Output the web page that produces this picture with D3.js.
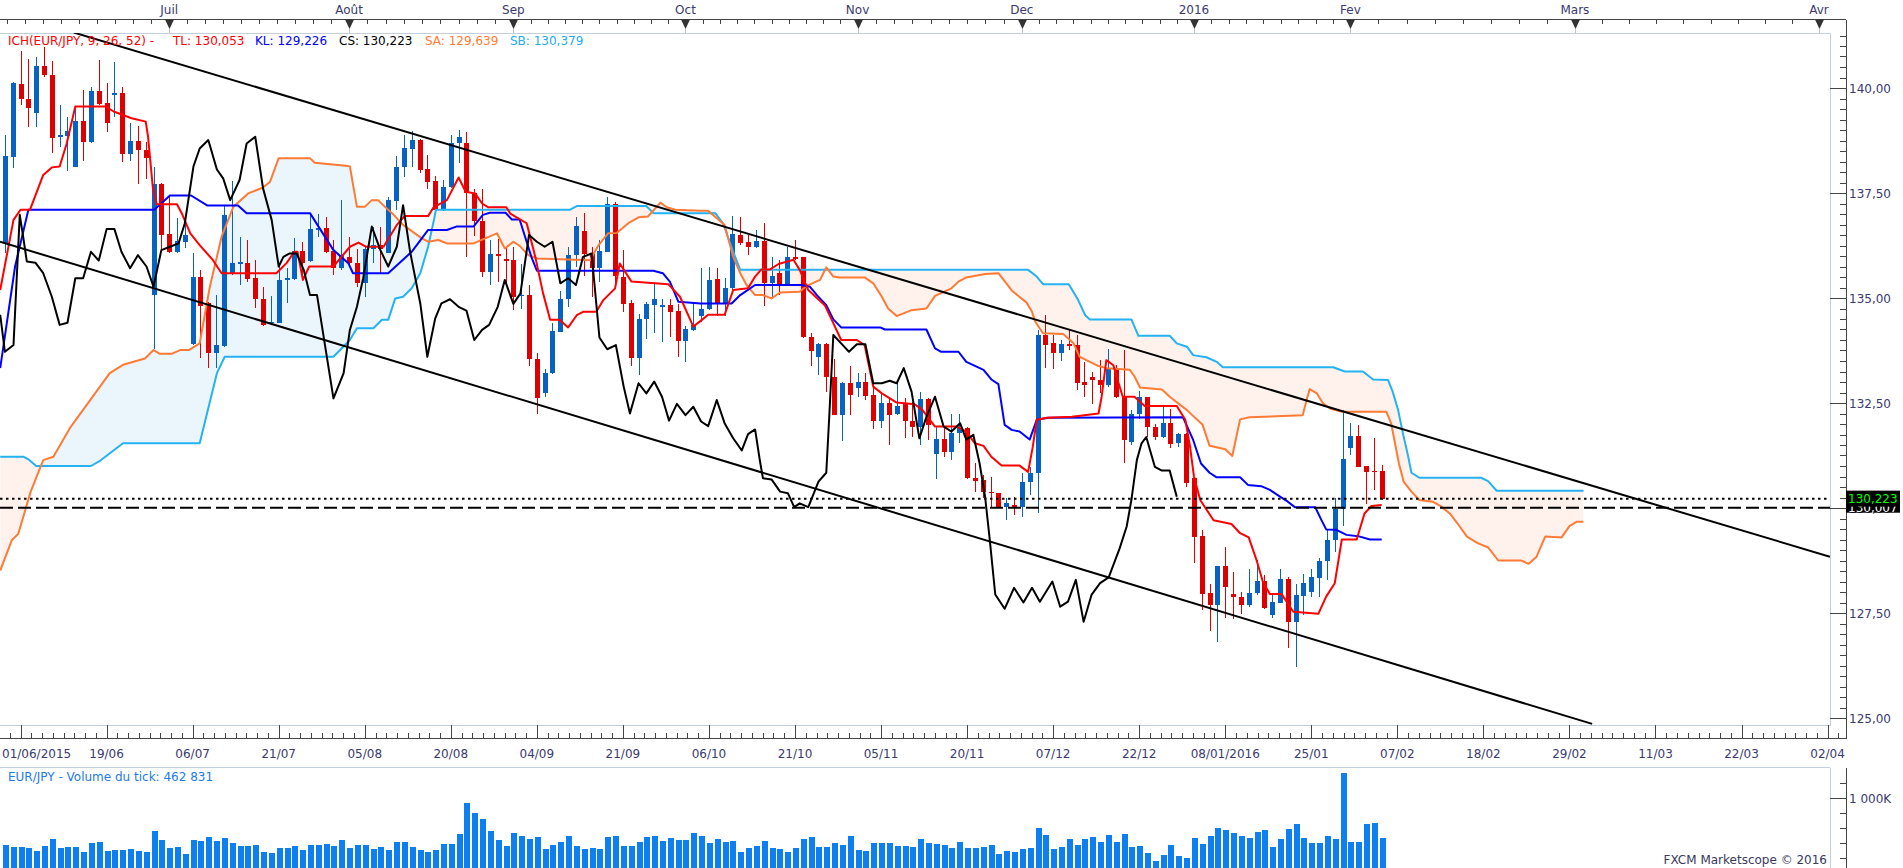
<!DOCTYPE html>
<html>
<head>
<meta charset="utf-8">
<script src="https://cdn.jsdelivr.net/npm/d3@7"></script>
<style>
  body { margin: 0; background: #fff; }
  svg { display: block; }
  text { font-family: "DejaVu Sans", Verdana, sans-serif; font-size: 12px; }
</style>
</head>
<body>
<script>
// daily candles, index 0 = first bar on the left
var open = [136.30,138.35,140.10,139.73,139.40,140.52,140.31,138.83,138.86,138.13,
139.22,138.72,139.94,139.65,139.87,139.87,138.43,138.74,138.52,135.07,
137.71,136.52,136.09,136.34,133.90,135.49,134.87,133.70,133.86,135.59,
135.83,135.83,135.47,134.97,134.40,134.41,135.44,135.45,136.12,135.89,
136.62,136.66,136.12,135.71,135.97,135.83,135.35,136.16,136.26,136.08,
137.32,138.13,138.55,138.76,138.06,137.79,137.10,137.64,138.68,138.70,
137.51,136.84,135.63,136.05,135.94,135.90,135.06,135.07,133.54,132.75,
133.21,134.20,134.97,136.02,136.59,136.06,135.72,136.10,137.24,135.51,
134.89,133.56,134.51,134.83,134.78,134.83,134.70,133.98,134.23,134.56,
134.73,135.45,134.86,135.23,136.50,136.33,136.22,136.36,135.35,135.59,
135.31,135.97,135.97,134.06,133.59,133.91,133.13,132.21,132.97,132.85,
133.01,132.69,132.06,132.49,132.25,132.48,132.08,131.94,132.59,131.29,
131.64,131.34,131.78,131.90,130.71,130.67,130.39,130.35,130.03,130.07,
130.03,130.63,130.83,134.12,133.92,133.70,133.90,133.88,133.01,133.13,
133.05,132.93,133.33,132.65,131.58,132.25,132.65,131.92,131.70,132.03,
131.54,131.76,130.71,129.33,127.97,127.69,128.62,127.95,127.87,127.69,
127.98,128.27,127.45,127.75,128.30,127.29,127.90,128.01,128.33,128.75,
129.25,129.97,131.42,131.71,131.00,130.89,130.89];

var high = [138.88,140.15,140.87,140.68,140.75,140.98,140.65,139.60,139.30,139.56,
139.95,140.02,140.67,140.13,140.62,140.03,139.17,139.10,138.72,138.13,
137.75,137.43,136.90,136.90,136.06,135.67,134.91,135.07,137.21,137.79,
136.46,136.38,135.90,135.27,135.05,135.79,135.71,136.42,136.34,136.98,
137.00,136.94,136.38,137.33,136.46,136.16,136.22,136.70,136.70,137.41,
138.37,138.88,138.98,138.78,138.40,137.90,137.82,138.88,139.00,138.96,
137.59,137.59,136.38,136.40,136.22,136.22,135.81,135.31,133.68,133.30,
134.41,135.17,136.22,136.94,137.03,136.22,136.38,137.41,137.29,136.14,
134.95,134.63,134.91,135.37,134.97,134.97,134.86,134.33,134.86,135.71,
135.75,135.71,135.47,136.95,136.94,136.50,136.62,136.78,135.98,135.91,
136.22,136.38,135.97,134.16,133.92,133.92,133.54,133.01,133.38,133.21,
133.22,132.97,132.73,132.65,132.97,132.61,132.53,132.77,132.61,131.94,
131.94,132.25,132.25,131.92,131.06,130.79,130.75,130.35,130.23,130.27,
130.83,130.97,134.25,134.60,134.12,134.00,134.24,134.12,133.48,133.25,
133.52,133.78,133.40,133.76,132.33,132.79,132.65,132.00,132.43,132.35,
131.79,131.79,130.75,129.48,128.19,128.62,129.06,128.48,128.01,128.54,
128.76,128.40,127.98,128.54,128.35,128.19,128.43,128.54,128.80,129.49,
130.23,132.33,132.02,131.98,131.00,131.66,131.02];

var low = [136.06,138.09,139.59,139.06,139.06,140.27,138.46,138.60,138.02,138.11,
138.27,138.70,139.60,138.96,139.32,138.25,138.27,137.71,137.83,133.78,
136.14,136.06,136.08,136.18,133.88,133.56,133.34,133.34,133.84,135.55,
135.31,135.39,134.77,134.33,134.38,134.40,134.87,135.43,135.43,135.86,
136.46,136.06,135.55,135.67,135.75,135.27,135.03,135.84,135.59,136.08,
137.10,137.89,138.13,137.97,137.59,137.06,137.06,137.61,138.21,135.97,
136.48,135.51,135.31,135.37,135.35,134.71,134.75,133.37,132.25,132.65,
133.19,134.18,134.79,135.75,135.52,135.03,135.39,136.10,135.27,134.67,
133.37,133.17,134.02,134.16,133.96,134.08,133.60,133.48,134.22,134.44,
134.71,134.56,134.57,135.19,136.26,136.02,136.18,134.81,134.99,135.07,
135.29,135.91,134.04,133.38,133.17,132.77,132.21,131.60,132.21,132.65,
132.57,131.87,131.90,131.50,132.21,131.66,131.68,131.50,131.62,130.68,
131.22,131.14,131.54,130.68,130.37,130.23,129.99,130.02,129.71,129.83,
129.78,130.31,129.87,133.33,133.30,133.51,133.76,132.81,132.65,132.48,
132.73,132.89,132.61,131.06,131.50,132.13,131.70,131.63,131.66,131.42,
131.46,130.51,128.70,127.57,127.06,126.82,127.37,127.35,127.48,127.65,
127.93,127.59,127.37,127.73,126.66,126.21,127.45,127.87,127.89,128.29,
128.96,129.56,131.26,130.98,130.10,130.43,130.19];

var close = [138.37,140.11,139.73,139.52,140.52,140.31,138.82,138.88,138.98,139.22,
138.72,139.94,139.62,139.16,139.88,138.42,138.74,138.52,138.33,137.71,
136.50,136.10,136.36,136.50,135.49,134.81,133.70,133.88,136.98,135.83,
135.85,135.45,134.97,134.36,134.43,135.44,135.48,136.12,135.84,136.64,
136.66,136.10,135.71,136.02,135.83,135.35,136.17,136.26,136.16,137.33,
138.13,138.56,138.76,138.05,137.77,137.10,137.64,138.68,138.84,137.49,
136.84,135.63,136.05,136.00,135.89,135.03,135.08,133.54,132.61,133.21,
134.22,134.97,136.02,136.71,136.05,135.71,136.13,137.24,135.52,134.86,
133.56,134.51,134.86,134.97,134.83,134.67,133.98,134.26,134.35,134.73,
135.44,134.86,135.23,136.52,136.32,136.22,136.36,135.35,135.52,135.31,
135.97,135.94,134.06,133.75,133.91,133.11,132.21,132.97,132.69,133.01,
132.67,132.06,132.49,132.21,132.43,132.06,131.94,132.59,131.98,131.64,
131.34,131.78,131.90,130.71,130.65,130.39,130.35,130.03,130.13,130.03,
130.63,130.84,134.12,133.88,133.70,133.90,133.87,132.98,132.93,133.05,
132.93,133.33,132.65,131.63,132.25,132.65,131.92,131.70,132.03,131.52,
131.76,130.59,129.32,127.95,127.69,128.62,128.11,127.87,127.69,127.98,
128.27,127.63,127.77,128.30,127.29,127.93,128.21,128.35,128.75,129.25,
129.97,131.16,131.71,130.98,130.86,130.86,130.22];

// tick volume, thousands
var volume = [369,342,342,324,288,356,450,329,342,342,
275,396,409,288,302,302,315,288,275,557,
436,329,342,248,436,423,476,423,463,396,
356,356,369,275,261,329,329,356,302,369,
369,382,356,436,329,369,369,315,342,302,
409,409,342,302,275,302,382,382,517,929,
799,718,557,436,356,530,490,450,476,315,
369,409,490,356,315,329,315,476,490,356,
356,409,476,490,423,463,436,436,530,490,
396,450,409,423,275,329,356,423,329,315,
275,329,450,476,342,342,396,369,490,302,
288,396,396,396,356,356,342,450,396,382,
369,329,409,329,329,342,369,248,288,275,
315,329,597,503,315,342,450,369,450,476,
409,503,409,517,342,356,261,154,235,369,
221,194,463,382,490,597,570,530,490,463,
544,570,342,450,584,651,463,396,396,490,
450,1332,409,409,651,664,463];

// ichimoku lines as [bar index, price] vertices
var tenkan = [[-0.6,135.19],[1.1,136.86],[2,137.10],[3.2,137.10],[4.9,137.93],[6,138.11],[7,138.13],[7.9,138.68],[9,139.56],[12.9,139.56],[13.9,139.44],[16.2,139.28],[18,139.20],[18.3,138.84],[18.9,137.65],[19.4,137.23],[22,137.23],[22.6,137.02],[23.7,136.54],[24.9,136.26],[26.6,135.90],[27.7,135.59],[34.7,135.59],[36,135.83],[37,136.10],[37.4,136.10],[38.1,135.43],[38.9,135.75],[42,135.75],[44.1,136.22],[45.2,136.32],[46.2,136.22],[48.4,136.22],[50.1,136.74],[51.1,136.95],[54.1,136.95],[54.8,137.16],[56.5,137.33],[58,137.87],[58.9,137.53],[60.1,137.49],[61,137.25],[61.8,137.16],[64.1,137.16],[64.6,137.01],[66.7,136.78],[67.8,135.98],[68.8,135.11],[69.7,134.48],[70.9,134.48],[72,134.30],[73.1,134.59],[73.9,134.67],[75.6,134.67],[76.5,134.95],[78,135.23],[78.6,135.82],[80.1,135.39],[84.8,135.33],[86.3,135.03],[88,134.32],[88.9,134.45],[89.9,134.60],[92,134.60],[93.1,135.19],[95,135.23],[95.9,135.51],[96.7,135.68],[97.8,135.68],[98.9,135.81],[100.8,135.91],[101.6,135.67],[102.7,135.19],[104.8,134.83],[105.7,134.48],[106.9,134.0],[108.9,134.0],[109.9,133.88],[111,132.89],[112.1,132.73],[114,132.51],[116.3,132.47],[117.3,132.33],[118.9,131.94],[121.7,131.94],[122.9,131.82],[124,131.54],[125.1,131.48],[126.1,131.22],[127.4,131.01],[129.7,131.01],[130.8,130.86],[131.4,131.46],[131.9,132.10],[133.2,132.15],[136.4,132.17],[139.8,132.25],[140.2,132.65],[140.8,133.52],[141.7,133.40],[142.3,133.01],[142.9,132.65],[144.4,132.65],[145.7,132.43],[149.8,132.43],[150.9,132.10],[151.5,131.46],[152,130.75],[152.8,130.19],[154.5,129.71],[156.8,129.62],[157.9,129.40],[159,129.30],[160,128.76],[160.8,128.25],[161.7,127.95],[163.2,127.95],[164.7,127.53],[167.9,127.48],[168.9,127.89],[170,128.21],[170.9,129.25],[172.8,129.25],[173.8,129.87],[174.7,130.05],[176,130.07]];

var kijun = [[-0.6,133.33],[1.3,135.75],[3,137.10],[19.1,137.10],[21.1,137.44],[23.8,137.44],[25.9,137.20],[29.8,137.20],[30.9,137.02],[39,137.02],[42,136.14],[43.9,135.83],[44.5,135.59],[49,135.59],[52,136.10],[54.1,136.62],[56.5,136.62],[57.7,136.70],[59.9,136.70],[61.1,136.98],[62,137.03],[64,137.03],[64.8,136.87],[65.8,136.87],[67.3,135.98],[68,135.65],[82.9,135.65],[84.1,135.59],[85,135.39],[86.1,134.91],[88.9,134.87],[92.9,134.87],[94,135.07],[95.9,135.31],[101.8,135.31],[102.9,135.27],[103.8,135.07],[105,134.83],[105.9,134.49],[106.9,134.30],[111.9,134.30],[112.5,134.25],[117.8,134.25],[118.9,133.80],[119.7,133.72],[121.9,133.72],[122.9,133.48],[125.1,133.29],[126.1,133.06],[127,132.95],[127.8,131.98],[128.7,131.86],[129.7,131.82],[131,131.63],[131.9,132.10],[133.4,132.15],[150.6,132.16],[151.9,131.62],[152.9,131.06],[154,130.84],[154.9,130.73],[157.9,130.73],[158.9,130.55],[160.6,130.52],[161.7,130.43],[163,130.27],[164,130.15],[164.9,130.02],[167.5,130.02],[168.3,129.71],[168.9,129.49],[170.2,129.48],[171.5,129.36],[173,129.33],[174.5,129.25],[176,129.25]];

var chikou = [[-0.6,134.60],[0,133.72],[1.1,133.88],[1.9,136.98],[2.4,136.38],[2.8,135.87],[3.9,135.84],[4.9,135.59],[6,135.03],[7,134.36],[8,134.41],[9,135.47],[10,135.47],[11,136.10],[12,135.89],[13,136.64],[14,136.64],[14.9,136.10],[16,135.71],[17,136.02],[18.1,135.75],[19,135.27],[20,136.14],[21.1,136.22],[22.2,136.30],[23,136.78],[24.1,138.13],[24.9,138.56],[26,138.76],[27.1,138.06],[27.9,137.85],[28.8,137.33],[30,137.81],[30.9,138.68],[32,138.84],[33,137.61],[34.1,136.86],[35,135.75],[35.6,135.98],[36.4,136.06],[37.3,136.06],[38.2,135.67],[39,135.07],[39.9,135.07],[42,132.61],[43.3,133.21],[44.1,134.24],[45,134.79],[45.8,135.47],[46.9,136.70],[48,136.14],[49,135.75],[50.1,136.22],[50.9,137.21],[51.8,136.10],[53.1,134.87],[54,133.60],[55,134.51],[55.8,134.87],[56.9,134.97],[58,134.79],[59,134.70],[60,134.00],[61,134.24],[61.9,134.36],[63,134.79],[63.9,135.43],[65,134.86],[65.9,135.11],[67,136.50],[68,136.34],[69,136.22],[70,136.34],[71,135.35],[72,135.47],[73,135.31],[73.9,135.98],[75,136.06],[76,134.06],[77,133.78],[78.1,133.88],[79.1,132.89],[79.9,132.25],[81,132.97],[82,132.73],[83,133.01],[84,132.65],[84.9,132.08],[85.9,132.48],[87,132.21],[88,132.41],[89,132.06],[89.9,131.95],[91,132.57],[92,132.02],[93.1,131.66],[94.2,131.37],[95,131.76],[95.9,131.87],[96.5,131.14],[96.9,130.71],[98,130.68],[99.1,130.39],[100.1,130.35],[100.9,130.02],[101.6,130.11],[102.7,130.02],[104,130.63],[105,130.84],[105.4,132.25],[105.9,134.12],[106.9,133.92],[107.9,133.72],[108.9,133.90],[110,133.90],[111,132.97],[112.1,132.97],[113.1,133.03],[114,132.97],[114.9,133.33],[115.9,132.77],[116.9,131.66],[117.8,132.17],[118.9,132.65],[120,131.94],[121,131.82],[122.1,132.02],[122.9,131.63],[123.8,131.74],[124.6,131.06],[125.3,130.27],[125.9,129.24],[126.6,127.94],[127.8,127.6],[129,128.1],[130.2,127.75],[131.3,128.1],[132.3,127.77],[133.9,128.25],[134.9,127.65],[135.9,127.77],[136.9,128.29],[137.9,127.29],[138.9,127.93],[140,128.21],[141.1,128.35],[142.5,129.04],[143.4,129.56],[144,130.19],[144.7,131.14],[145.3,131.54],[145.9,131.69],[147,130.98],[147.9,130.89],[148.9,130.89],[149.8,130.27]];

var senkouA = [[-0.6,128.51],[0.9,129.24],[1.7,129.38],[3.3,130.39],[4.9,131.14],[6.2,131.22],[8.3,131.90],[10.9,132.57],[13.4,133.21],[15.1,133.41],[17.9,133.56],[19,133.76],[19.8,133.67],[21.3,133.67],[22.4,133.76],[23.5,133.76],[24.9,133.92],[26.2,135.27],[27.7,136.46],[29.2,137.17],[31.1,137.49],[33,137.63],[33.9,137.77],[35,138.33],[39,138.33],[39.6,138.22],[43.9,138.14],[44.1,138.13],[45,137.17],[46,137.17],[46.9,137.33],[47.7,137.33],[48.6,137.17],[49.7,136.98],[50.9,136.74],[53.3,136.42],[54.1,136.34],[55.4,136.38],[56.5,136.30],[59.9,136.30],[62.9,136.54],[63.9,136.18],[65,136.34],[65.8,136.24],[66.9,136.02],[68,135.94],[74.8,135.90],[75.9,136.26],[77.1,136.54],[78.2,136.55],[79.7,136.78],[81,136.92],[82.2,136.94],[83.8,137.27],[84.6,137.16],[85.7,137.10],[88.9,137.08],[89.9,137.08],[91,136.90],[92,136.74],[93.1,135.98],[94,135.59],[94.8,135.31],[95.9,135.07],[96.9,135.07],[98,134.99],[99.1,135.13],[101.6,135.15],[102.5,135.29],[104.2,135.43],[105,135.73],[105.9,135.51],[106.7,135.49],[109.9,135.49],[111,135.35],[112.1,135.03],[112.9,134.75],[114,134.57],[115.9,134.71],[117.8,134.75],[118.9,135.05],[121,135.23],[121.9,135.39],[122.9,135.49],[125.3,135.57],[127,135.59],[128.7,135.18],[130.6,134.89],[131.3,134.67],[131.7,134.44],[132.7,134.16],[135.3,134.14],[136.6,133.92],[137.4,133.60],[139.8,133.38],[140.8,133.33],[143.8,133.29],[144.4,133.13],[145.1,132.87],[147.9,132.82],[148.9,132.65],[151.1,132.33],[153.1,131.98],[154,131.48],[156,131.40],[156.9,131.24],[157.9,132.11],[159.1,132.16],[165.9,132.21],[166.4,132.57],[166.8,132.83],[167.7,132.73],[168.5,132.49],[169.4,132.37],[170.9,132.29],[176.6,132.29],[177.2,132.02],[178.2,131.06],[178.8,130.63],[179.8,130.39],[180.8,130.19],[182.5,130.15],[183.5,130.05],[184.7,129.87],[185.7,129.63],[186.9,129.32],[188.2,129.17],[189.6,129.06],[190.9,128.75],[193.8,128.75],[194.8,128.67],[195.8,128.84],[196.9,129.32],[199,129.30],[200,129.57],[200.9,129.67],[201.8,129.67]];

var senkouB = [[-0.6,131.22],[2.4,131.22],[3,131.16],[4,131.0],[11,131.0],[12.2,131.13],[15.1,131.54],[24.9,131.54],[27.1,133.21],[28.1,133.60],[42,133.60],[44.1,134.0],[45,134.28],[47.1,134.28],[48.2,134.48],[49,134.48],[49.9,134.99],[50.9,135.03],[52,135.23],[53.1,135.59],[54.1,136.22],[54.8,136.82],[55.1,137.10],[72.2,137.10],[73.1,137.19],[82,137.19],[82.9,137.02],[90.8,137.02],[91.8,136.78],[93.1,136.10],[94,135.67],[130.8,135.67],[131.9,135.51],[132.7,135.33],[136,135.33],[137.2,134.95],[138.1,134.59],[138.7,134.49],[144,134.49],[144.9,134.10],[148.9,134.10],[149.8,133.92],[151.1,133.84],[151.9,133.64],[153.6,133.59],[154.9,133.48],[155.7,133.35],[169.8,133.35],[171.3,133.25],[173.6,133.25],[174.9,133.06],[176.8,133.05],[177.4,132.77],[178.1,132.33],[178.8,131.70],[179.3,131.30],[179.8,130.84],[180.8,130.72],[188.7,130.72],[189.6,130.64],[190.7,130.41],[201.8,130.41]];

// hand drawn channel
var trendUpper = [[8.8,141.32],[233.3,128.84]];
var trendLower = [[-0.63,136.34],[202.9,124.86]];

var lastClose = 130.223;
var dashedLevel = 130.007;

var monthLabels = ["Juil","Août","Sep","Oct","Nov","Dec","2016","Fev","Mars","Avr"];
var monthIdx = [21,44,65,87,109,130,152,172,200.7,231.9];
var dateLabels = ["01/06/2015","19/06","06/07","21/07","05/08","20/08","04/09","21/09","06/10","21/10","05/11","20/11","07/12","22/12","08/01/2016","25/01","07/02","18/02","29/02","11/03","22/03","02/04"];
var priceTicks = [125, 127.5, 130, 132.5, 135, 137.5, 140];

var legendTexts = ["ICH(EUR/JPY, 9, 26, 52) -", "TL: 130,053", "KL: 129,226", "CS: 130,223", "SA: 129,639", "SB: 130,379"];

// layout
var plotL = 0, plotT = 33, plotR = 1830, plotB = 725, axisX = 1846;
var volT = 767.5, volB = 868;
var axisCol = '#3a3a6e';

var x = d3.scaleLinear().domain([0, 176]).range([4.9, 1381.7]);
var y = d3.scaleLinear().domain([125, 140]).range([718, 88]);
var yVol = d3.scaleLinear().domain([0, 1000]).range([872.5, 798]);
var fmt = function(v, n) { return d3.format('.' + n + 'f')(v).replace('.', ','); };

var svg = d3.select('body').append('svg').attr('width', 1903).attr('height', 868);
var defs = svg.append('defs');

defs.append('clipPath').attr('id', 'plotClip').append('rect')
  .attr('x', plotL).attr('y', plotT).attr('width', plotR - plotL).attr('height', plotB - plotT);
defs.append('clipPath').attr('id', 'volClip').append('rect')
  .attr('x', plotL).attr('y', volT + 0.5).attr('width', plotR - plotL).attr('height', volB - volT);

// clip regions above each senkou line, used to colour the cloud
defs.append('clipPath').attr('id', 'aboveSB').append('path')
  .attr('d', d3.area().x(function(d) { return x(d[0]); }).y0(plotT).y1(function(d) { return y(d[1]); })(senkouB));
defs.append('clipPath').attr('id', 'aboveSA').append('path')
  .attr('d', d3.area().x(function(d) { return x(d[0]); }).y0(plotT).y1(function(d) { return y(d[1]); })(senkouA));

// ---------- frames and axes ----------
var frame = svg.append('g').attr('shape-rendering', 'crispEdges');

frame.append('rect').attr('x', plotL - 1).attr('y', plotT).attr('width', plotR - plotL + 1).attr('height', plotB - plotT)
  .attr('fill', 'none').attr('stroke', '#c3cfdc');
frame.append('line').attr('x1', plotL).attr('x2', plotR).attr('y1', volT).attr('y2', volT).attr('stroke', '#c3cfdc');
frame.append('line').attr('x1', plotR).attr('x2', plotR).attr('y1', volT).attr('y2', volB).attr('stroke', '#c3cfdc');

// top month axis
frame.append('line').attr('x1', 0).attr('x2', axisX).attr('y1', 19.5).attr('y2', 19.5).attr('stroke', '#444');
var topTicks = [];
for (var m = 0; m < monthIdx.length - 1; m++) {
  var a = x(monthIdx[m]), b = x(monthIdx[m + 1]);
  var n = Math.round((b - a) / (monthIdx[m] >= 172 ? 28 : 18));
  for (var j = 1; j < n; j++) topTicks.push(a + (b - a) * j / n);
}
var firstStep = (x(monthIdx[1]) - x(monthIdx[0])) / Math.round((x(monthIdx[1]) - x(monthIdx[0])) / 18);
for (var p = x(monthIdx[0]) - firstStep; p > 0; p -= firstStep) topTicks.push(p);

frame.selectAll('.tt').data(topTicks).enter().append('line')
  .attr('x1', function(d) { return Math.round(d); }).attr('x2', function(d) { return Math.round(d); })
  .attr('y1', 19.5).attr('y2', 23.5).attr('stroke', '#444');

var months = svg.append('g');
months.selectAll('path').data(monthIdx).enter().append('path')
  .attr('d', function(d) { var px = Math.round(x(d)) + 0.5; return 'M' + (px - 4.5) + ',19.5L' + (px + 4.5) + ',19.5L' + px + ',29Z'; })
  .attr('fill', '#333');
months.selectAll('line').data(monthIdx).enter().append('line')
  .attr('x1', function(d) { return Math.round(x(d)) + 0.5; }).attr('x2', function(d) { return Math.round(x(d)) + 0.5; })
  .attr('y1', 29).attr('y2', plotT).attr('stroke', '#b9c4d2');
months.selectAll('text').data(monthLabels).enter().append('text')
  .attr('x', function(d, i) { return x(monthIdx[i]); }).attr('y', 14)
  .attr('text-anchor', 'middle').attr('fill', axisCol).text(function(d) { return d; });

// right price axis
frame.append('line').attr('x1', axisX).attr('x2', axisX).attr('y1', 19.5).attr('y2', 738.5).attr('stroke', '#444');
frame.append('line').attr('x1', axisX).attr('x2', axisX).attr('y1', volT).attr('y2', volB).attr('stroke', '#444');
var minorPrice = d3.range(124.75, 141.5, 0.25).filter(function(v) { return y(v) > plotT && y(v) < plotB; });
frame.selectAll('.pm').data(minorPrice).enter().append('line')
  .attr('x1', axisX - 6).attr('x2', axisX)
  .attr('y1', function(d) { return Math.round(y(d)) + 0.5; }).attr('y2', function(d) { return Math.round(y(d)) + 0.5; })
  .attr('stroke', '#444');
frame.selectAll('.pM').data(priceTicks).enter().append('line')
  .attr('x1', plotR).attr('x2', axisX)
  .attr('y1', function(d) { return Math.round(y(d)) + 0.5; }).attr('y2', function(d) { return Math.round(y(d)) + 0.5; })
  .attr('stroke', '#444');
svg.append('g').selectAll('text').data(priceTicks).enter().append('text')
  .attr('x', axisX + 3).attr('y', function(d) { return y(d) + 4.5; })
  .attr('fill', axisCol).text(function(d) { return fmt(d, 2); });

// bottom date axis
frame.append('line').attr('x1', 0).attr('x2', axisX).attr('y1', 738.5).attr('y2', 738.5).attr('stroke', '#444');
var dateIdx = dateLabels.map(function(d, i) { return 2 + 11 * i; });
var minorDates = [];
dateIdx.forEach(function(d) {
  for (var k = 1; k < 8; k++) {
    var px = x(d) + (x(13) - x(2)) * k / 8;
    if (px < axisX) minorDates.push(px);
  }
});
for (var k = 1; k < 8; k++) minorDates.push(x(2) - (x(13) - x(2)) * k / 8);
frame.selectAll('.dm').data(minorDates.filter(function(d) { return d > 0; })).enter().append('line')
  .attr('x1', function(d) { return Math.round(d) + 0.5; }).attr('x2', function(d) { return Math.round(d) + 0.5; })
  .attr('y1', 733).attr('y2', 738.5).attr('stroke', '#444');
frame.selectAll('.dM').data(dateIdx).enter().append('line')
  .attr('x1', function(d) { return Math.round(x(d)) + 0.5; }).attr('x2', function(d) { return Math.round(x(d)) + 0.5; })
  .attr('y1', plotB).attr('y2', 738.5).attr('stroke', '#444');
svg.append('g').selectAll('text').data(dateLabels).enter().append('text')
  .attr('x', function(d, i) { return i === 0 ? 2 : x(dateIdx[i]); })
  .attr('y', 757.5)
  .attr('text-anchor', function(d, i) { return i === 0 ? 'start' : 'middle'; })
  .attr('fill', axisCol).text(function(d) { return d; });

// ---------- price panel ----------
var plot = svg.append('g').attr('clip-path', 'url(#plotClip)');
var lineGen = d3.line().x(function(d) { return x(d[0]); }).y(function(d) { return y(d[1]); });
var downArea = d3.area().x(function(d) { return x(d[0]); }).y0(plotB).y1(function(d) { return y(d[1]); });

// kumo: blue where SA is on top, peach where SB is on top
plot.append('g').attr('clip-path', 'url(#aboveSB)').append('path')
  .attr('d', downArea(senkouA)).attr('fill', '#ebf6fc');
plot.append('g').attr('clip-path', 'url(#aboveSA)').append('path')
  .attr('d', downArea(senkouB)).attr('fill', '#fff2ed');

// candles
var bars = d3.range(open.length);
var candles = plot.append('g').attr('shape-rendering', 'crispEdges');
candles.selectAll('line').data(bars).enter().append('line')
  .attr('x1', function(i) { return Math.round(x(i)) + 0.5; }).attr('x2', function(i) { return Math.round(x(i)) + 0.5; })
  .attr('y1', function(i) { return y(high[i]); }).attr('y2', function(i) { return y(low[i]); })
  .attr('stroke', function(i) { return close[i] >= open[i] ? '#0862c4' : '#de0000'; });
candles.selectAll('rect').data(bars).enter().append('rect')
  .attr('x', function(i) { return Math.round(x(i)) - 2; }).attr('width', 5)
  .attr('y', function(i) { return y(Math.max(open[i], close[i])); })
  .attr('height', function(i) { return Math.max(1.5, Math.abs(y(open[i]) - y(close[i]))); })
  .attr('fill', function(i) { return close[i] >= open[i] ? '#0862c4' : '#de0000'; });

// ichimoku lines
var ichi = [[senkouB, '#25b2f2'], [senkouA, '#ff7a35'], [kijun, '#0000ff'], [tenkan, '#ff0000'], [chikou, '#000000']];
ichi.forEach(function(s) {
  plot.append('path').attr('d', lineGen(s[0])).attr('fill', 'none')
    .attr('stroke', s[1]).attr('stroke-width', 2).attr('stroke-linejoin', 'round');
});

// levels
plot.append('line').attr('x1', plotL).attr('x2', plotR).attr('y1', y(lastClose)).attr('y2', y(lastClose))
  .attr('stroke', '#000').attr('stroke-width', 2).attr('stroke-dasharray', '2.5,3.5');
plot.append('line').attr('x1', plotL).attr('x2', plotR).attr('y1', y(dashedLevel)).attr('y2', y(dashedLevel))
  .attr('stroke', '#000').attr('stroke-width', 2).attr('stroke-dasharray', '13,5');

// channel
[trendUpper, trendLower].forEach(function(t) {
  plot.append('path').attr('d', lineGen(t)).attr('fill', 'none').attr('stroke', '#000').attr('stroke-width', 2);
});

// legend
var legendCols = ['#ff0000', '#ff0000', '#0000ff', '#000000', '#ff7a35', '#25aaf0'];
var legendX = [8, 173, 255, 339, 425, 510];
svg.append('g').selectAll('text').data(legendTexts).enter().append('text')
  .attr('x', function(d, i) { return legendX[i]; }).attr('y', 45)
  .attr('fill', function(d, i) { return legendCols[i]; }).text(function(d) { return d; });

// price tags on the axis; the last-close tag sits on top of the level tag
var tags = svg.append('g');
tags.append('rect').attr('x', axisX).attr('y', y(dashedLevel) - 8).attr('width', 54).attr('height', 13).attr('fill', '#000');
tags.append('text').attr('x', axisX + 2).attr('y', y(dashedLevel) + 4.5).attr('fill', '#fff').text(fmt(dashedLevel, 3));
tags.append('rect').attr('x', axisX).attr('y', y(lastClose) - 8).attr('width', 54).attr('height', 16).attr('fill', '#000');
tags.append('text').attr('x', axisX + 2).attr('y', y(lastClose) + 4.5).attr('fill', '#00ff00').text(fmt(lastClose, 3));

// ---------- volume panel ----------
svg.append('text').attr('x', 8).attr('y', 780.5).attr('fill', '#1e7be6')
  .text('EUR/JPY - Volume du tick: ' + d3.format(',')(462831).replace(',', ' '));

svg.append('g').attr('clip-path', 'url(#volClip)').attr('shape-rendering', 'crispEdges')
  .selectAll('rect').data(volume).enter().append('rect')
  .attr('x', function(d, i) { return Math.round(x(i)) - 2; }).attr('width', 5.5)
  .attr('y', function(d) { return yVol(d); })
  .attr('height', function(d) { return volB - yVol(d) + 10; })
  .attr('fill', '#0d7ff0');

var volTicks = [200, 400, 600, 800, 1200];
frame.selectAll('.vm').data(volTicks).enter().append('line')
  .attr('x1', axisX - 6).attr('x2', axisX)
  .attr('y1', function(d) { return Math.round(yVol(d)) + 0.5; }).attr('y2', function(d) { return Math.round(yVol(d)) + 0.5; })
  .attr('stroke', '#444');
frame.append('line').attr('x1', plotR).attr('x2', axisX)
  .attr('y1', Math.round(yVol(1000)) + 0.5).attr('y2', Math.round(yVol(1000)) + 0.5).attr('stroke', '#444');
svg.append('text').attr('x', axisX + 3).attr('y', yVol(1000) + 4.5).attr('fill', axisCol).text('1 000K');

svg.append('text').attr('x', 1827).attr('y', 864).attr('text-anchor', 'end').attr('fill', '#3a3a5a')
  .text('FXCM Marketscope © 2016');
</script>
</body>
</html>
